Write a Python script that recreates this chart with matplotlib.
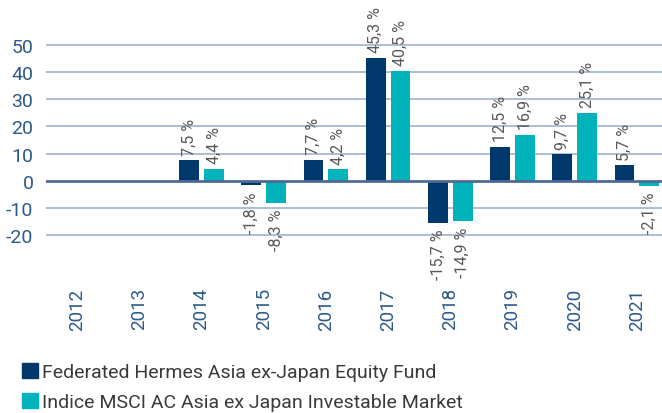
import numpy as np
import matplotlib
matplotlib.use("Agg")
import matplotlib.pyplot as plt
from matplotlib.patches import Patch

years = ["2012", "2013", "2014", "2015", "2016", "2017", "2018", "2019", "2020", "2021"]
fund = [np.nan, np.nan, 7.5, -1.8, 7.7, 45.3, -15.7, 12.5, 9.7, 5.7]
index = [np.nan, np.nan, 4.4, -8.3, 4.2, 40.5, -14.9, 16.9, 25.1, -2.1]
series_names = ["Federated Hermes Asia ex-Japan Equity Fund",
                "Indice MSCI AC Asia ex Japan Investable Market"]
yticks = [-20, -10, 0, 10, 20, 30, 40, 50]

dark = "#00386b"
teal = "#00b2ba"
tick_col = "#2b5a8a"
grid_col = "#a8b7d0"
zero_col = "#4f6b95"

plt.rcParams["font.family"] = ["Roboto", "DejaVu Sans"]

fig = plt.figure(figsize=(6.62, 4.14), dpi=100)
ax = fig.add_axes([46 / 662, (414 - 280) / 414, 622 / 662, 280 / 414])

x = np.arange(len(years))
off = 0.2
w = 0.32
b1 = ax.bar(x - off, fund, w, color=dark, zorder=3)
b2 = ax.bar(x + off, index, w, color=teal, zorder=3)

def fmt(v):
    return ("%.1f %%" % v).replace(".", ",")

for bars, vals in ((b1, fund), (b2, index)):
    for rect, v in zip(bars, vals):
        if np.isnan(v):
            continue
        cx = rect.get_x() + rect.get_width() / 2
        if v >= 0:
            ax.annotate(fmt(v), (cx, v), xytext=(0, 4), textcoords="offset points",
                        rotation=90, ha="center", va="bottom", fontsize=11.5,
                        color="#585858")
        else:
            ax.annotate(fmt(v), (cx, v), xytext=(0, -4), textcoords="offset points",
                        rotation=90, ha="center", va="top", fontsize=11.5,
                        color="#585858")

ax.set_xlim(-0.5, len(years) - 0.5)
ax.set_ylim(-36.3, 67.0)
for yv in yticks:
    if yv == 0:
        ax.axhline(0, color=zero_col, lw=2, zorder=4)
    else:
        ax.axhline(yv, color=grid_col, lw=1.3, zorder=1)

ax.set_yticks(yticks)
ax.set_yticklabels([str(v) for v in yticks])
ax.set_xticks(x)
ax.set_xticklabels(years, rotation=90, va="top")
ax.tick_params(axis="y", length=0, pad=9, labelsize=14, labelcolor=tick_col)
ax.tick_params(axis="x", length=0, pad=6, labelsize=13.5, labelcolor=tick_col)
for s in ax.spines.values():
    s.set_visible(False)

handles = [Patch(color=dark), Patch(color=teal)]
fig.legend(handles, series_names, loc="upper left", bbox_to_anchor=(12 / 662, 1 - 354 / 414),
           frameon=False, fontsize=14, handlelength=0.82, handleheight=0.82,
           handletextpad=0.2, labelspacing=0.6, borderpad=0, labelcolor="#3a3a3a")

fig.savefig("out.png", dpi=100)
